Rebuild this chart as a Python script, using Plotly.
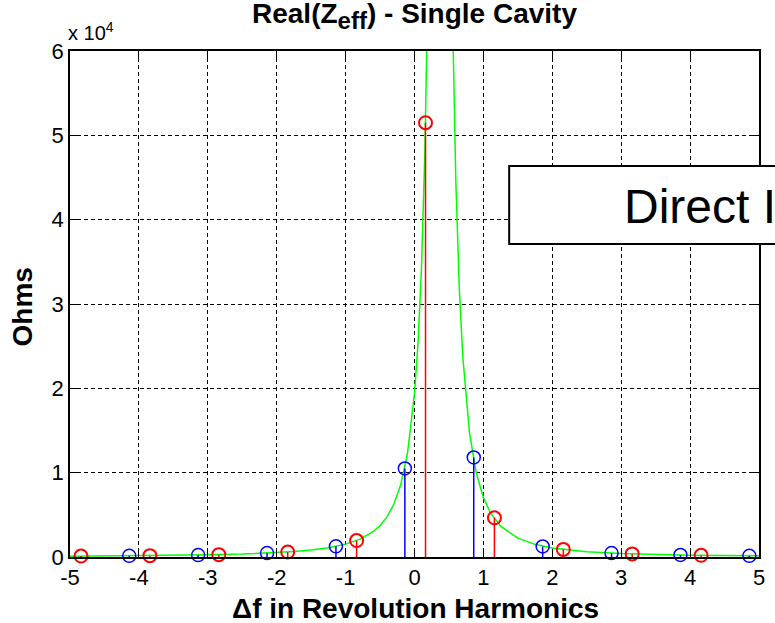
import plotly.graph_objects as go

# ---------------- data ----------------
x_tick_vals = [-5, -4, -3, -2, -1, 0, 1, 2, 3, 4, 5]
x_tick_text = ["-5", "-4", "-3", "-2", "-1", "0", "1", "2", "3", "4", "5"]
y_tick_vals = [0, 10000, 20000, 30000, 40000, 50000, 60000]
y_tick_text = ["0", "1", "2", "3", "4", "5", "6"]

blue_x = [-4.14, -3.14, -2.14, -1.14, -0.14, 0.86, 1.86, 2.86, 3.86, 4.86]
blue_y = [140, 230, 460, 1260, 10500, 11800, 1250, 460, 240, 140]

red_x = [-4.84, -3.84, -2.84, -1.84, -0.84, 0.16, 1.16, 2.16, 3.16, 4.16]
red_y = [110, 160, 280, 590, 1950, 51500, 4650, 900, 370, 200]

curve_x = [-5, -4.5, -4, -3.5, -3, -2.5, -2, -1.75, -1.5, -1.25, -1, -0.8, -0.6, -0.5,
           -0.4, -0.3, -0.2, -0.1, 0, 0.05, 0.1, 0.15, 0.2, 0.25, 0.3, 0.37, 0.45, 0.5,
           0.55, 0.6, 0.65, 0.7, 0.8, 0.9, 1.0, 1.1, 1.25, 1.5, 1.75, 2, 2.5, 3, 3.5,
           4, 4.5, 5]
curve_y = [100, 121, 151, 192, 253, 349, 511, 639, 821, 1092, 1524, 2086, 3020, 3740,
           4760, 6250, 8560, 12400, 19400, 25200, 34000, 47800, 70600, 109700, 172000,
           243000, 158000, 100000, 65100, 44500, 31900, 23800, 14600, 9840, 7040, 5280,
           3660, 2230, 1500, 1080, 633, 416, 294, 218, 169, 134]

title_text = "Real(Z<sub><span style='font-size:24px'>eff</span></sub>) - Single Cavity"
x_label = "\u0394f in Revolution Harmonics"
y_label = "Ohms"
box_text = "Direct Impedance"

# ---------------- layout geometry ----------------
W, H = 775, 623
L, R, T, B = 70, 10, 51, 66
PW, PH = W - L - R, H - T - B


def px(xp):
    return (xp - L) / PW


def py(yp):
    return (H - B - yp) / PH


def stems(xs, ys):
    sx, sy = [], []
    for a, b in zip(xs, ys):
        sx += [a, a, None]
        sy += [0, b, None]
    return sx, sy


fig = go.Figure()

fig.add_trace(go.Scatter(x=curve_x, y=curve_y, mode="lines",
                         line=dict(color="#00ff00", width=1.5), hoverinfo="skip"))

bsx, bsy = stems(blue_x, blue_y)
fig.add_trace(go.Scatter(x=bsx, y=bsy, mode="lines",
                         line=dict(color="#0000ff", width=1.5), hoverinfo="skip"))
rsx, rsy = stems(red_x, red_y)
fig.add_trace(go.Scatter(x=rsx, y=rsy, mode="lines",
                         line=dict(color="#ff0000", width=1.5), hoverinfo="skip"))

fig.add_trace(go.Scatter(x=blue_x, y=blue_y, mode="markers", cliponaxis=False,
                         marker=dict(symbol="circle-open", size=13, color="#0000ff",
                                     line=dict(color="#0000ff", width=1.5))))
fig.add_trace(go.Scatter(x=red_x, y=red_y, mode="markers", cliponaxis=False,
                         marker=dict(symbol="circle-open", size=13, color="#ff0000",
                                     line=dict(color="#ff0000", width=2))))

axis_common = dict(showline=True, linecolor="black", linewidth=1.5, mirror="allticks",
                   ticks="inside", ticklen=8, tickcolor="black", tickwidth=1,
                   showgrid=True, gridcolor="black", gridwidth=1, griddash="4px,3px",
                   zeroline=False,
                   tickfont=dict(family="Arial, Liberation Sans", size=22, color="black"))

fig.update_xaxes(range=[-5, 5], tickvals=x_tick_vals, ticktext=x_tick_text, **axis_common)
fig.update_yaxes(range=[0, 60000], tickvals=y_tick_vals, ticktext=y_tick_text, **axis_common)

bold = dict(family="Arial, Liberation Sans", size=28, color="black")

annotations = [
    dict(text="<b>" + title_text + "</b>", x=0.5, y=py(16), xref="paper", yref="paper",
         xanchor="center", yanchor="middle", showarrow=False, font=bold),
    dict(text="<b>" + x_label + "</b>", x=px(419), y=py(608), xref="paper", yref="paper",
         xanchor="center", yanchor="middle", showarrow=False, font=bold),
    dict(text="<b>" + y_label + "</b>", x=px(22), y=py(307), xref="paper", yref="paper",
         xanchor="center", yanchor="middle", showarrow=False, textangle=-90, font=bold),
    dict(text="x 10<sup>4</sup>", x=px(66), y=py(46), xref="paper", yref="paper",
         xanchor="left", yanchor="bottom", showarrow=False,
         font=dict(family="Arial, Liberation Sans", size=20, color="black")),
    dict(text=box_text, x=px(627), y=py(206), xref="paper", yref="paper",
         xanchor="left", yanchor="middle", showarrow=False,
         font=dict(family="Arial, Liberation Sans", size=48, color="black")),
]

shapes = [
    dict(type="rect", xref="paper", yref="paper", x0=px(513), x1=px(1100),
         y0=py(244), y1=py(166), fillcolor="white", line=dict(color="black", width=2),
         layer="above"),
]

fig.update_layout(width=W, height=H, autosize=False,
                  margin=dict(l=L, r=R, t=T, b=B, pad=0),
                  paper_bgcolor="white", plot_bgcolor="white", showlegend=False,
                  annotations=annotations, shapes=shapes)

fig.write_html("out.html")
